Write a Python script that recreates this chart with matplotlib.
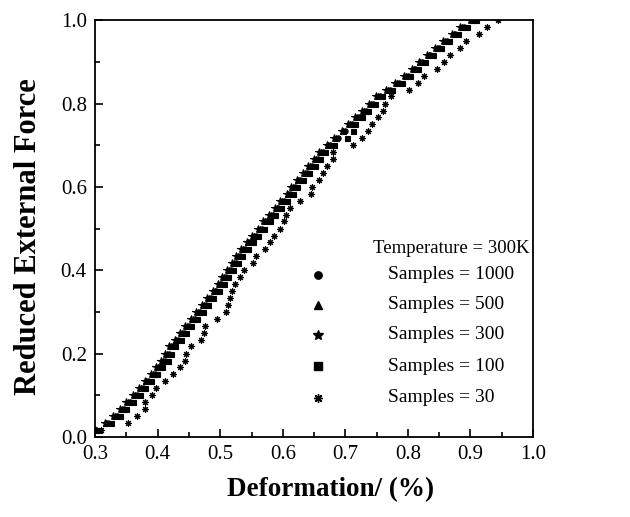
import matplotlib
matplotlib.use("Agg")
import matplotlib.pyplot as plt
from matplotlib.ticker import MultipleLocator

plt.rcParams['font.family'] = ['Liberation Serif', 'DejaVu Serif']

# reduced external force levels (y)
force = [0.017, 0.033, 0.050, 0.067, 0.083, 0.100, 0.117, 0.133, 0.150, 0.167,
         0.183, 0.200, 0.217, 0.233, 0.250, 0.267, 0.283, 0.300, 0.317, 0.333,
         0.350, 0.367, 0.383, 0.400, 0.417, 0.433, 0.450, 0.467, 0.483, 0.500,
         0.517, 0.533, 0.550, 0.567, 0.583, 0.600, 0.617, 0.633, 0.650, 0.667,
         0.683, 0.700, 0.717, 0.733, 0.750, 0.767, 0.783, 0.800, 0.817, 0.833,
         0.850, 0.867, 0.883, 0.900, 0.917, 0.933, 0.950, 0.967, 0.983, 1.000]

# deformation (%) for each sample size
def_1000 = [0.302, 0.321, 0.335, 0.346, 0.356, 0.367, 0.376, 0.385, 0.395, 0.403,
            0.412, 0.418, 0.424, 0.433, 0.442, 0.450, 0.459, 0.468, 0.477, 0.485,
            0.494, 0.502, 0.509, 0.517, 0.525, 0.531, 0.540, 0.548, 0.557, 0.566,
            0.575, 0.584, 0.593, 0.602, 0.612, 0.619, 0.628, 0.638, 0.647, 0.656,
            0.664, 0.676, 0.688, 0.700, 0.711, 0.722, 0.733, 0.744, 0.755, 0.771,
            0.786, 0.800, 0.812, 0.823, 0.836, 0.849, 0.862, 0.876, 0.890, 0.905]
def_500 = [0.302, 0.318, 0.332, 0.343, 0.353, 0.364, 0.373, 0.382, 0.392, 0.400,
           0.409, 0.415, 0.421, 0.430, 0.439, 0.447, 0.456, 0.465, 0.474, 0.482,
           0.491, 0.499, 0.506, 0.514, 0.522, 0.528, 0.537, 0.545, 0.554, 0.563,
           0.572, 0.581, 0.590, 0.599, 0.609, 0.616, 0.625, 0.635, 0.644, 0.653,
           0.661, 0.673, 0.685, 0.697, 0.708, 0.719, 0.730, 0.741, 0.752, 0.768,
           0.783, 0.797, 0.809, 0.820, 0.833, 0.846, 0.859, 0.873, 0.887, 0.902]
def_300 = [0.300, 0.315, 0.329, 0.340, 0.350, 0.361, 0.370, 0.379, 0.389, 0.397,
           0.406, 0.412, 0.418, 0.427, 0.436, 0.444, 0.453, 0.462, 0.471, 0.479,
           0.488, 0.496, 0.503, 0.511, 0.519, 0.525, 0.534, 0.542, 0.551, 0.560,
           0.569, 0.578, 0.587, 0.596, 0.606, 0.613, 0.622, 0.632, 0.641, 0.650,
           0.658, 0.670, 0.682, 0.694, 0.705, 0.716, 0.727, 0.738, 0.749, 0.765,
           0.780, 0.794, 0.806, 0.817, 0.830, 0.843, 0.856, 0.870, 0.884, 0.899]
def_100 = [0.306, 0.325, 0.339, 0.350, 0.360, 0.371, 0.380, 0.389, 0.399, 0.407,
           0.416, 0.422, 0.428, 0.437, 0.446, 0.454, 0.463, 0.472, 0.481, 0.489,
           0.498, 0.506, 0.513, 0.521, 0.529, 0.535, 0.544, 0.552, 0.561, 0.570,
           0.579, 0.588, 0.597, 0.606, 0.616, 0.623, 0.632, 0.642, 0.651, 0.660,
           0.668, 0.682, 0.702, 0.712, 0.716, 0.726, 0.737, 0.748, 0.759, 0.775,
           0.790, 0.804, 0.816, 0.827, 0.840, 0.853, 0.866, 0.880, 0.894, 0.909]
def_30 = [0.309, 0.353, 0.367, 0.379, 0.379, 0.391, 0.398, 0.411, 0.425, 0.436,
          0.443, 0.445, 0.454, 0.469, 0.474, 0.475, 0.495, 0.510, 0.512, 0.516,
          0.519, 0.524, 0.531, 0.538, 0.553, 0.557, 0.571, 0.579, 0.586, 0.595,
          0.602, 0.605, 0.611, 0.627, 0.645, 0.647, 0.658, 0.665, 0.670, 0.681,
          0.681, 0.712, 0.727, 0.737, 0.742, 0.752, 0.761, 0.763, 0.773, 0.802,
          0.816, 0.826, 0.846, 0.857, 0.868, 0.883, 0.893, 0.913, 0.927, 0.944]

labels = ['Samples = 1000', 'Samples = 500', 'Samples = 300', 'Samples = 100', 'Samples = 30']
series = [def_1000, def_500, def_300, def_100, def_30]
markers = ['o', '^', '*', 's', (8, 2, 0)]
msizes = [3.8, 4.2, 5.5, 3.6, 4.8]

fig = plt.figure(figsize=(6.3, 5.17), dpi=100)
ax = fig.add_axes([0.151, 0.155, 0.695, 0.806])

# draw back to front so stars sit on top like the original
for xs, m, ms in zip(series[::-1], markers[::-1], msizes[::-1]):
    ax.plot(xs, force, linestyle='none', marker=m, markersize=ms,
            color='black', markeredgewidth=0.8)

ax.set_xlim(0.3, 1.0)
ax.set_ylim(0.0, 1.0)
ax.xaxis.set_major_locator(MultipleLocator(0.1))
ax.xaxis.set_minor_locator(MultipleLocator(0.05))
ax.yaxis.set_major_locator(MultipleLocator(0.2))
ax.yaxis.set_minor_locator(MultipleLocator(0.1))
ax.tick_params(which='both', direction='in', top=False, right=False,
               labelsize=15, width=1.2)
ax.tick_params(which='major', length=6, pad=6)
ax.tick_params(which='minor', length=3.5)
for sp in ax.spines.values():
    sp.set_linewidth(1.3)

ax.set_xlabel('Deformation/ (%)', fontsize=19.5, fontweight='bold')
ax.set_ylabel('Reduced External Force', fontsize=22, fontweight='bold')
ax.xaxis.set_label_coords(0.537, -0.097)
ax.yaxis.set_label_coords(-0.118, 0.48)

# legend block
ax.text(0.634, 0.453, 'Temperature = 300K', transform=ax.transAxes,
        fontsize=13.5, va='center', ha='left')
row_y = [0.389, 0.317, 0.245, 0.17, 0.094]
for yy, lab, m, ms in zip(row_y, labels, markers, msizes):
    ax.plot([0.509], [yy], transform=ax.transAxes, linestyle='none', marker=m,
            markersize=ms + 1.5, color='black', clip_on=False)
    ax.text(0.669, yy, lab, transform=ax.transAxes, fontsize=14,
            va='center', ha='left')

fig.savefig('out.png', dpi=100)
